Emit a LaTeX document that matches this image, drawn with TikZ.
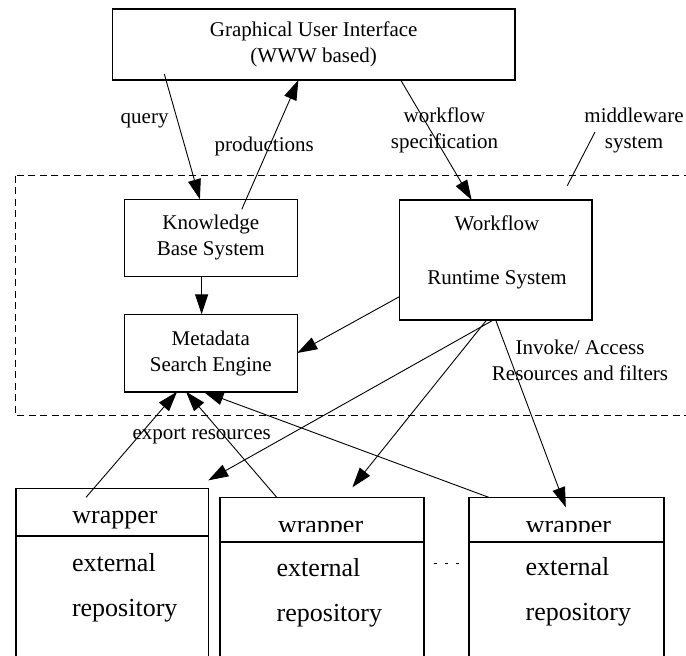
\documentclass[tikz,border=0pt]{standalone}
\usepackage{fontspec}
\setmainfont{Liberation Serif}
\usetikzlibrary{arrows.meta,calc}

\begin{document}
\begin{tikzpicture}[
  x=1pt, y=-1pt,
  >={Triangle[length=20pt,width=13pt]},
  every node/.style={font=\fontsize{21}{26}\selectfont, inner sep=0pt, outer sep=0pt},
  box/.style={draw, line width=1.6pt, align=center},
  wrapbox/.style={draw, line width=1.6pt},
  wraptext/.style={font=\fontsize{26}{30}\selectfont, anchor=base},
  repotext/.style={font=\fontsize{26}{45}\selectfont, align=left, anchor=base west},
  arrow/.style={->, line width=0.9pt},
  note/.style={anchor=base, align=center},
  dotline/.style={line width=0.8pt, dash pattern=on 3.3pt off 7.7pt},
]
  \useasboundingbox (0,0) rectangle (686,656);
  \clip (0,0) rectangle (686,656);

  % middleware boundary
  \draw[line width=1.4pt, dash pattern=on 7pt off 4.5pt] (15.7,175.7) rectangle (700,415.5);

  \node[box, minimum width=402.7pt, minimum height=71pt] (gui) at (313.7,44.5)
    {Graphical User Interface\\(WWW based)};
  \node[box, minimum width=173pt, minimum height=77pt] (kb) at (210.8,237.8)
    {Knowledge\\Base System};
  \node[box, minimum width=173pt, minimum height=77.4pt] (mse) at (210.8,353)
    {Metadata\\Search Engine};
  \node[box, minimum width=192.4pt, minimum height=120pt] (wf) at (495.5,260) {};
  % base of a two-line node is its last line
  \node[note] (wftext) at (497,284) {Workflow\\[28pt]Runtime System};

  % repositories with their wrappers
  \node[wrapbox, minimum width=192.6pt, minimum height=47.7pt] (w1top) at (112,512.2) {};
  \node[wrapbox, minimum width=192.6pt, minimum height=160pt] (w1repo) at (112,616) {};
  \node[wrapbox, minimum width=204pt, minimum height=44.4pt] (w2top) at (322,519.5) {};
  \node[wrapbox, minimum width=204pt, minimum height=160pt] (w2repo) at (322,621.7) {};
  \node[wrapbox, minimum width=194.7pt, minimum height=44.4pt] (w3top) at (566.4,519.5) {};
  \node[wrapbox, minimum width=194.7pt, minimum height=160pt] (w3repo) at (566.4,621.7) {};

  \node[wraptext] (w1label) at (115,523.3) {wrapper};
  \begin{scope}
    \clip (w2top.north west) rectangle ($(w2top.south east)+(0,-10)$);
    \node[wraptext] (w2label) at (320.6,533) {wrapper};
  \end{scope}
  \begin{scope}
    \clip (w3top.north west) rectangle ($(w3top.south east)+(0,-10)$);
    \node[wraptext] (w3label) at (568.5,533) {wrapper};
  \end{scope}
  \node[repotext] (w1text) at (72,616.7) {external\\repository};
  \node[repotext] (w2text) at (276.7,621.7) {external\\repository};
  \node[repotext] (w3text) at (525.7,620.5) {external\\repository};

  \coordinate (dotsy) at (0,563.3);
  \draw[dotline, shorten <=9.7pt, shorten >=2.7pt] (w2repo.east |- dotsy) -- (w3repo.west |- dotsy);

  % labels
  \node[note] (query) at (144.6,123) {query};
  \node[note] (prod) at (264.2,151.7) {productions};
  \node[note] (wfspec) at (444.5,148.5) {workflow\\specification};
  \node[note] (mw) at (634,148.5) {middleware\\system};
  \node[note] (invoke) at (580,380) {Invoke/ Access\\Resources and filters};
  \node[note] (export) at (201.7,439) {export resources};

  \coordinate (mwfrom) at (595,132);
  \coordinate (mwto) at (567.3,185.7);
  \draw[line width=0.9pt] (mwfrom) -- (mwto);

  % connectors
  \draw[arrow] ($(gui.south west)!0.129!(gui.south east)+(0,-6)$) -- ($(kb.north west)!0.437!(kb.north east)$);
  \draw[arrow] ($(kb.north west)!0.679!(kb.north east)+(0,10)$) -- ($(gui.south west)!0.462!(gui.south east)$);
  \draw[arrow] ($(gui.south west)!0.716!(gui.south east)$) -- ($(wf.north west)!0.376!(wf.north east)$);
  \draw[arrow] ($(kb.south west)!0.447!(kb.south east)$) coordinate (kbout) -- (kbout |- mse.north);
  \draw[arrow] ($(wf.north west)!0.806!(wf.south west)$) -- (mse.east);
  \draw[arrow] ($(wf.south west)!0.489!(wf.south east)$) -- ($(w1top.north east)+(0,-8)$);
  \draw[arrow] ($(wf.south west)!0.454!(wf.south east)$) -- ($(w2top.north west)!0.649!(w2top.north east)+(0,-10)$);
  \draw[arrow] ($(wf.south west)!0.501!(wf.south east)$) -- ($(w3top.north west)!0.497!(w3top.north east)+(0,10)$);
  \draw[arrow] ($(w1top.north west)!0.365!(w1top.north east)+(0,9)$) -- ($(mse.south west)!0.305!(mse.south east)$);
  \draw[arrow] ($(w2top.north west)!0.278!(w2top.north east)$) -- ($(mse.south west)!0.357!(mse.south east)$);
  \draw[arrow] ($(w3top.north west)!0.101!(w3top.north east)$) -- ($(mse.south west)!0.458!(mse.south east)$);
\end{tikzpicture}
\end{document}
